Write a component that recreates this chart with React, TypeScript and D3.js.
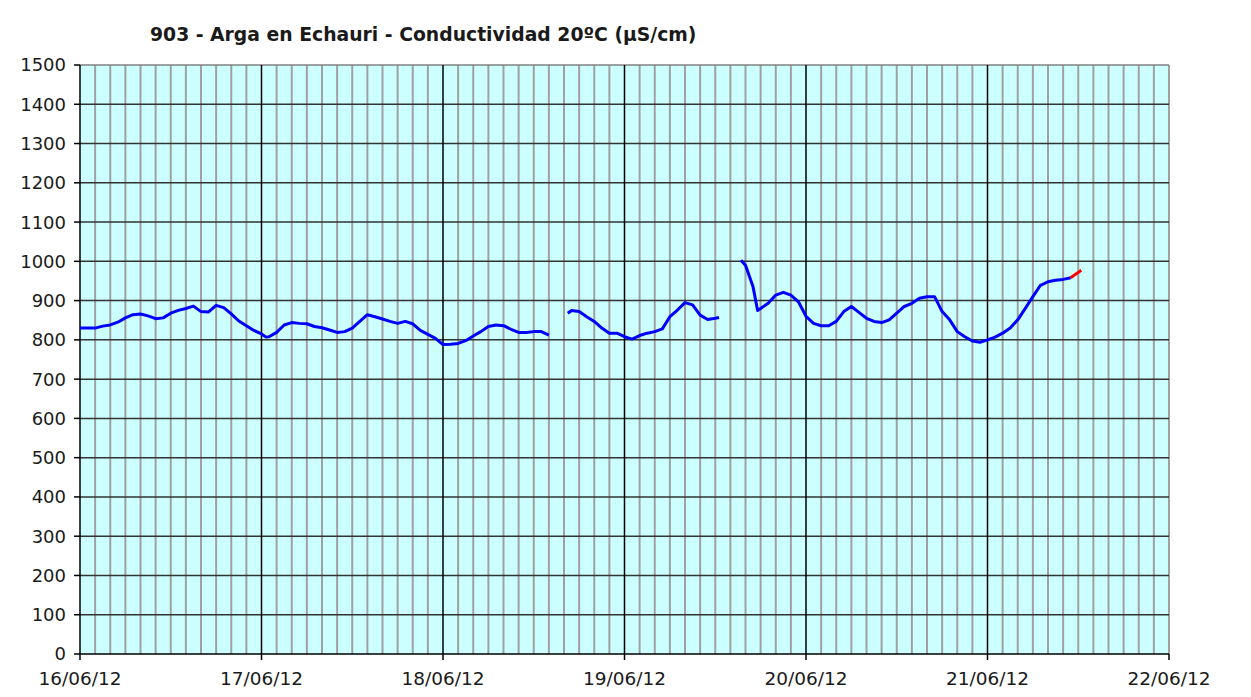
import { useEffect, useRef } from "react";
import * as d3 from "d3";

const title = "903 - Arga en Echauri - Conductividad 20ºC (µS/cm)";

// hours since 16/06/12 00:00, null breaks the line
const hours = [
  0, 1, 2, 3, 4, 5, 6, 7, 8, 9, 10, 11, 12, 13, 14, 15, 16, 17, 18, 19, 20, 21, 22, 23,
  24, 24.6, 25, 26, 27, 28, 29, 30, 31, 32, 33, 34, 35, 36, 37, 38, 39, 40, 41, 42, 43, 44, 45, 46, 47,
  48, 49, 50, 51, 52, 53, 54, 55, 56, 57, 58, 59, 60, 61, 62, 63,
  64.5, 65, 66, 67, 68, 69, 70, 71,
  72, 73, 74, 75, 76, 77, 78, 79, 80, 81, 82, 83, 84, 84.5, 86,
  87.4, 88, 89, 89.6, 90, 91, 92, 93, 94, 95,
  96, 97, 98, 99, 100, 101, 102, 103, 104, 105, 106, 107, 108, 109, 110, 111, 112, 113, 114, 115, 116, 117, 118, 119,
  120, 121, 122, 123, 124, 125, 126, 127, 128, 129, 130, 131,
];

const conductividad: (number | null)[] = [
  830, 830, 830, 835, 838, 845, 856, 864, 866, 861, 854, 856, 868, 875, 880, 886, 872, 871, 888, 882, 866, 848, 836, 824,
  815, 807, 808, 819, 838, 844, 842, 841, 834, 831, 825, 819, 821, 830, 847, 864, 859, 853, 847, 842, 847, 841, 824, 814, 804,
  788, 789, 791, 798, 810, 821, 834, 838, 836, 827, 819, 819, 821, 821, 812, null,
  868, 875, 872, 859, 847, 830, 817, 817,
  808, 802, 811, 817, 821, 828, 859, 876, 895, 889, 863, 852, 855, 857, null,
  1003, 990, 935, 875, 880, 893, 914, 921, 914, 897,
  860, 842, 836, 836, 847, 872, 885, 870, 855, 847, 844, 851, 868, 885, 893, 906, 910, 910, 872, 851, 821, 808, 797, 794,
  800, 807, 817, 830, 851, 880, 910, 939, 948, 952, 954, 958,
];

// last readings shown in red
const redHours = [131, 131.7, 132.4];
const redValues = [958, 968, 977];

const dayLabels = ["16/06/12", "17/06/12", "18/06/12", "19/06/12", "20/06/12", "21/06/12", "22/06/12"];
const yTicks = d3.range(0, 1501, 100);

export default function App() {
  const svgRef = useRef<SVGSVGElement>(null);

  useEffect(() => {
    if (!svgRef.current) return;
    const svg = d3.select(svgRef.current);
    svg.selectAll("*").remove();

    const left = 80;
    const right = 1169;
    const top = 65;
    const bottom = 654;
    const font = "'DejaVu Sans', Verdana, sans-serif";

    const x = d3.scaleLinear().domain([0, 144]).range([left, right]);
    const y = d3.scaleLinear().domain([0, 1500]).range([bottom, top]);

    svg.append("rect").attr("width", 1251).attr("height", 697).attr("fill", "#ffffff");

    svg
      .append("rect")
      .attr("x", left)
      .attr("y", top)
      .attr("width", right - left)
      .attr("height", bottom - top)
      .attr("fill", "#ccffff");

    // minor vertical grid every 2 hours
    d3.range(2, 145, 2)
      .filter((h) => h % 24 !== 0 || h === 144)
      .forEach((h) => {
        svg
          .append("line")
          .attr("x1", x(h))
          .attr("x2", x(h))
          .attr("y1", top)
          .attr("y2", bottom)
          .attr("stroke", "#a0a0a0")
          .attr("stroke-width", 2);
      });

    // horizontal grid
    yTicks.forEach((v) => {
      if (v === 0) return;
      svg
        .append("line")
        .attr("x1", left)
        .attr("x2", right)
        .attr("y1", y(v))
        .attr("y2", y(v))
        .attr("stroke", v === 1500 ? "#808080" : "#333333")
        .attr("stroke-width", 1.5);
    });

    // day lines
    d3.range(24, 144, 24).forEach((h) => {
      svg
        .append("line")
        .attr("x1", x(h))
        .attr("x2", x(h))
        .attr("y1", top)
        .attr("y2", bottom)
        .attr("stroke", "#000000")
        .attr("stroke-width", 1.5);
    });

    // axes
    svg
      .append("line")
      .attr("x1", left)
      .attr("x2", left)
      .attr("y1", top)
      .attr("y2", bottom)
      .attr("stroke", "#000")
      .attr("stroke-width", 1.5);
    svg
      .append("line")
      .attr("x1", left)
      .attr("x2", right)
      .attr("y1", bottom)
      .attr("y2", bottom)
      .attr("stroke", "#000")
      .attr("stroke-width", 1.5);

    yTicks.forEach((v) => {
      svg
        .append("line")
        .attr("x1", left - 6)
        .attr("x2", left)
        .attr("y1", y(v))
        .attr("y2", y(v))
        .attr("stroke", "#000")
        .attr("stroke-width", 1.5);
      svg
        .append("text")
        .attr("x", left - 14)
        .attr("y", y(v))
        .attr("dy", "0.36em")
        .attr("text-anchor", "end")
        .attr("font-family", font)
        .attr("font-size", 18)
        .attr("fill", "#1a1a1a")
        .text(v.toString());
    });

    dayLabels.forEach((label, i) => {
      const xp = x(i * 24);
      svg
        .append("line")
        .attr("x1", xp)
        .attr("x2", xp)
        .attr("y1", bottom)
        .attr("y2", bottom + 6)
        .attr("stroke", "#000")
        .attr("stroke-width", 1.5);
      svg
        .append("text")
        .attr("x", xp)
        .attr("y", 685)
        .attr("text-anchor", "middle")
        .attr("font-family", font)
        .attr("font-size", 18.5)
        .attr("fill", "#1a1a1a")
        .text(label);
    });

    // series
    const points = hours.map((h, i) => [h, conductividad[i]] as [number, number | null]);
    const line = d3
      .line<[number, number | null]>()
      .defined((d) => d[1] !== null)
      .x((d) => x(d[0]))
      .y((d) => y(d[1] as number));

    svg
      .append("path")
      .datum(points)
      .attr("fill", "none")
      .attr("stroke", "#0000ff")
      .attr("stroke-width", 3)
      .attr("stroke-linejoin", "round")
      .attr("d", line);

    const redPoints = redHours.map((h, i) => [h, redValues[i]] as [number, number | null]);
    svg
      .append("path")
      .datum(redPoints)
      .attr("fill", "none")
      .attr("stroke", "#ff0000")
      .attr("stroke-width", 3)
      .attr("stroke-linejoin", "round")
      .attr("d", line);

    svg
      .append("text")
      .attr("x", 150)
      .attr("y", 41)
      .attr("font-family", font)
      .attr("font-size", 18.8)
      .attr("font-weight", "bold")
      .attr("fill", "#1a1a1a")
      .text(title);
  }, []);

  return (
    <svg
      ref={svgRef}
      width={1251}
      height={697}
      viewBox="0 0 1251 697"
      style={{ position: "absolute", left: 0, top: 0, display: "block" }}
    ></svg>
  );
}
